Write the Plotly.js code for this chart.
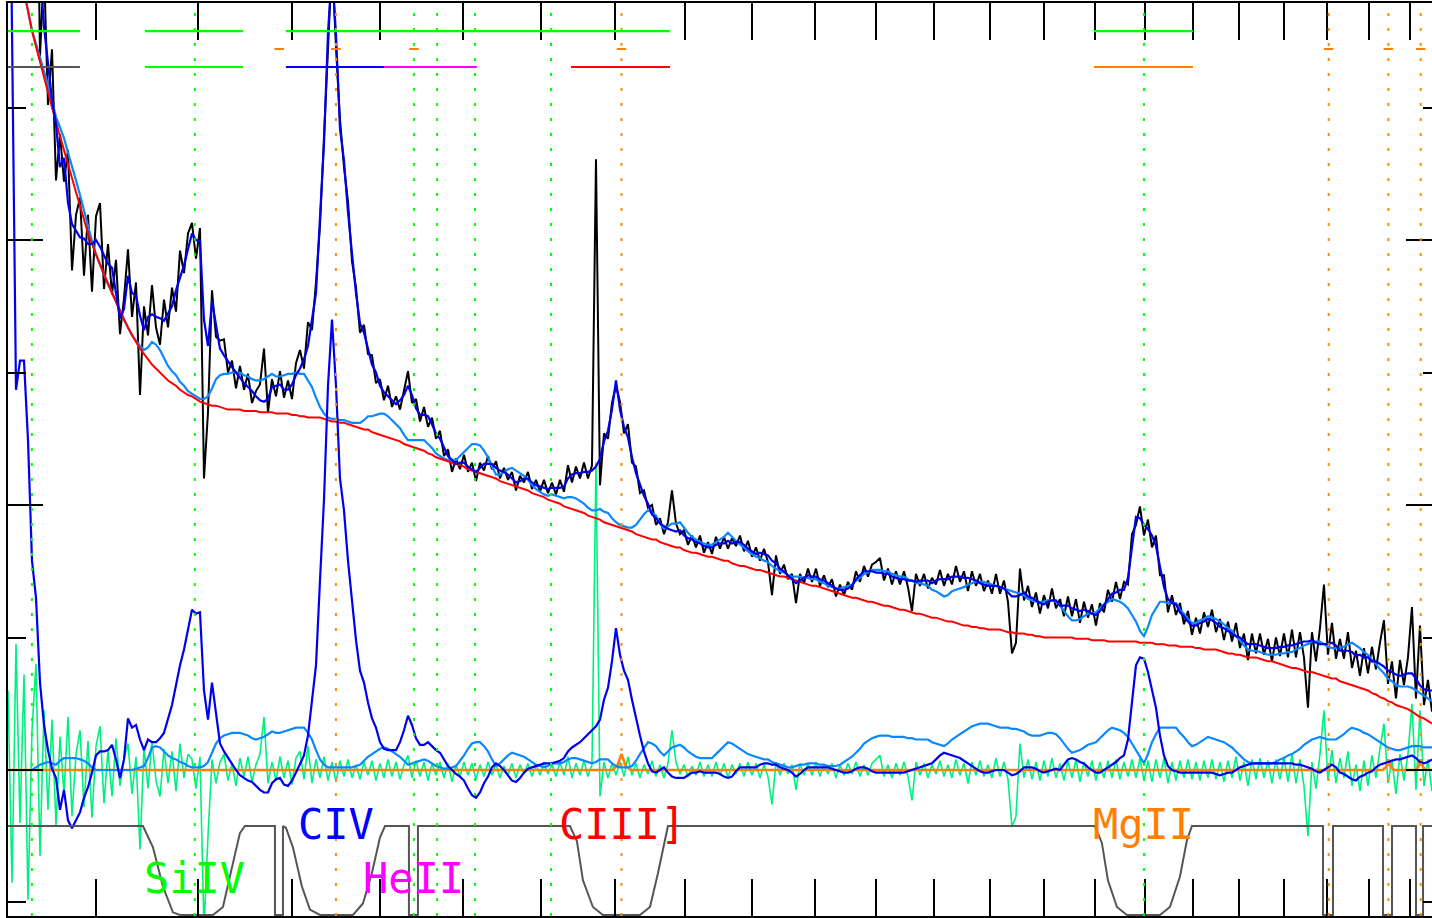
<!DOCTYPE html>
<html><head><meta charset="utf-8">
<script src="https://cdn.plot.ly/plotly-3.0.1.min.js"></script>
<style>html,body{margin:0;padding:0;overflow:hidden;background:#fff}#chart{width:1445px;height:918px}</style>
</head><body><div id="chart"></div>
<script>
// log-linear spectral sampling (rest-frame wavelength, Angstrom)
const loglam0 = 3.08583;
const dloglam = 0.0012712;
const npix = 357;

// power-law continuum
const continuum = [
649,633,617,602,588,573,558,546,534,522,511,500,489,478,468,457,447,436,426,415,405,397,389,381,374,
367,360,353,347,340,334,328,323,318,314,310,306,303,300,297,294,292,290,287,285,283,282,280,278,277,
276,275,275,274,273,272,272,272,272,271,271,271,271,270,270,270,270,269,269,269,269,268,268,267,267,
266,266,266,266,265,264,263,263,262,262,261,260,259,258,257,257,255,254,253,252,251,250,249,248,246,
245,244,243,242,241,239,238,236,235,234,233,232,231,230,229,227,226,225,224,223,222,221,220,218,217,
216,215,214,213,212,211,209,208,207,206,204,203,202,201,199,198,197,196,195,194,192,191,190,189,187,
186,185,184,183,182,181,180,178,177,176,175,174,174,172,171,170,169,168,168,166,165,164,164,163,162,
161,161,160,159,158,158,156,155,154,154,153,152,151,151,150,149,148,147,146,146,145,144,143,142,141,
140,139,139,138,137,136,135,134,133,132,131,130,130,129,128,127,127,126,125,124,124,123,122,121,121,
120,119,118,118,117,116,115,115,114,113,112,112,111,110,109,109,108,108,107,107,106,106,106,106,105,
104,104,103,103,103,102,102,101,101,100,100,100,100,100,100,100,100,99,99,99,99,98,98,98,98,
97,97,97,97,97,97,97,97,96,96,96,96,95,95,95,94,94,94,93,93,93,93,92,92,91,
91,91,91,90,89,88,88,87,87,86,85,85,85,84,83,82,82,81,80,79,78,77,77,76,75,
74,74,73,72,71,70,69,69,67,66,65,64,63,62,61,60,58,57,55,54,52,51,49,48,47,
46,44,42,40,39,37,35];

// FeII pseudo-continuum
const feii = [
0,0,0,0,0,0,0,2,4,5,6,5,4,7,9,9,9,9,8,7,5,2,0,0,0,
0,0,0,0,0,0,0,1,2,3,9,17,18,17,14,11,9,8,6,5,3,2,2,2,3,
6,13,20,24,26,27,28,28,28,27,26,24,23,24,25,27,29,28,28,29,30,31,32,32,32,
28,23,15,8,4,2,2,2,2,2,2,2,3,4,7,10,12,14,16,17,16,14,12,10,7,
4,5,6,7,8,7,5,3,2,1,1,2,3,7,11,16,20,21,21,18,14,8,3,5,8,
11,13,12,11,10,8,6,4,3,2,3,5,5,5,6,8,9,9,8,7,6,5,6,8,8,
8,5,3,2,2,2,3,7,12,17,21,20,18,14,11,14,17,18,19,17,14,12,10,9,9,
9,9,12,15,18,21,20,18,16,14,12,11,10,9,8,8,6,5,4,3,2,2,3,4,4,
5,5,5,4,4,3,3,3,4,6,8,10,13,16,20,22,24,25,26,26,26,25,25,25,25,
24,24,23,23,23,23,21,20,19,18,20,23,25,27,29,31,33,34,35,35,35,34,33,32,32,
32,31,31,30,29,27,26,26,26,27,28,28,27,24,20,16,13,14,15,17,19,20,21,24,27,
30,32,31,30,28,25,20,15,9,5,12,21,27,32,32,32,32,32,28,25,21,18,19,21,23,
25,24,23,22,21,19,17,14,11,8,6,5,5,5,5,5,5,6,8,9,11,12,14,16,19,
21,23,24,25,24,23,23,23,25,27,30,32,31,30,28,27,25,23,21,19,17,16,15,15,16,
17,18,18,18,17,17,17];

// broad emission-line model
const broadLines = [
830,543,287,309,309,249,158,130,66,34,15,1,-6,-30,-15,-38,-44,-38,-32,-21,-13,-2,11,14,14,
15,19,8,-6,8,39,32,34,23,15,23,21,21,24,28,39,49,64,79,91,107,121,118,119,60,
38,66,42,20,14,9,4,0,-4,-6,-8,-9,-12,-15,-17,-17,-10,-7,-6,-11,-12,-8,-2,4,11,
26,53,79,143,204,290,340,290,220,196,158,128,98,75,66,51,39,32,21,16,15,15,15,21,30,
41,34,24,19,19,21,18,15,13,8,3,0,-3,-5,-8,-14,-19,-21,-17,-10,-5,2,5,3,0,
-4,-8,-9,-6,-2,1,2,3,4,5,5,5,6,7,9,14,17,19,21,24,27,30,33,38,53,
62,82,107,87,75,68,53,39,26,14,5,-1,-2,0,2,-2,-5,-6,-6,-6,-4,-2,-2,-1,-2,
-2,-2,-2,-3,-5,-6,-5,-1,2,2,2,2,2,4,5,5,4,4,2,1,0,-2,-5,-3,0,
2,2,2,2,2,2,1,0,-1,-2,-2,-1,1,2,2,1,-1,-2,-2,-2,-2,-2,-2,-2,-2,
-1,0,1,2,3,4,5,8,11,13,12,11,10,9,7,5,3,1,-1,-2,-2,-1,0,0,0,
-2,-4,-3,-1,2,2,2,1,-1,-2,-1,0,1,0,4,8,9,8,6,5,2,0,-2,-2,0,
2,4,6,9,11,23,53,79,85,84,74,60,47,26,11,3,0,-1,-2,-2,-2,-2,-2,-2,-2,
-2,-2,-3,-4,-3,-2,-2,0,2,3,4,5,5,5,5,5,5,5,5,5,5,5,4,4,3,
2,1,-1,-2,0,2,4,2,-2,-3,-5,-7,-8,-5,-4,-2,-1,2,4,5,6,7,8,8,9,
10,11,9,6,5,6,8];

// data minus model
const residual = [
60,-85,95,-40,72,-98,30,80,-65,45,-30,38,-42,25,-18,40,-35,12,30,-28,22,-36,18,33,-25,
15,-20,24,-12,8,20,-18,10,-60,18,-14,22,-8,-20,16,-10,14,-16,20,-6,12,8,-14,10,-120,
-50,8,-10,6,12,-8,5,-12,9,-5,10,-9,4,12,40,-10,6,-8,10,-6,7,-11,9,14,-7,
18,-10,8,-6,10,-8,6,-9,7,-5,8,-6,4,-7,6,-4,7,-8,5,-6,8,-5,6,-7,4,
11,-6,7,-5,6,-8,5,-4,6,-6,5,-9,4,-5,6,-4,5,-7,4,-5,6,-4,5,-6,3,
-4,5,-6,4,-3,5,-5,4,-4,6,-3,4,-5,6,-4,10,-6,5,-4,7,-5,4,232,-20,6,
-6,5,-4,6,-5,10,-4,5,-6,4,-3,7,-5,4,-6,5,30,6,-3,4,-5,3,-4,6,-5,
4,-5,6,-4,5,-6,4,-3,5,-5,6,-4,5,-6,4,-5,-26,6,-4,5,-3,4,-15,5,-4,
5,-4,6,-5,4,-3,5,-6,4,-4,5,-3,6,-5,4,-4,5,8,11,-5,4,-6,5,-4,6,
-5,-23,6,-4,5,-6,4,-3,7,-5,4,-6,8,-4,5,-10,6,-4,7,-5,4,-6,9,-5,6,
-7,-43,-35,20,-6,8,-7,6,-8,7,-5,9,-6,5,-8,7,-6,8,-9,6,-5,7,-8,6,-6,
7,-6,8,-7,6,-5,8,-6,9,-8,7,-9,8,-6,9,-10,6,-8,7,-6,8,-7,6,-8,7,
-6,8,-7,6,-9,7,-6,10,-8,6,-12,8,-7,9,-6,7,-10,8,-7,10,-9,12,-10,8,-12,
-50,6,-14,12,45,-8,15,-10,9,-6,14,-12,4,-16,7,-12,11,-6,16,35,-10,8,-18,12,-8,
12,50,-15,45,-12,8,-16];

// narrow-line model
const narrowWave = [1218, 1896, 1903, 1909, 1915, 1922, 3332, 3340, 3346, 3352, 3360, 3412, 3420, 3426, 3432, 3440, 3478];
const narrowFlux = [0, 0, 3, 12, 3, 0, 0, 2, 8, 2, 0, 0, 2, 8, 2, 0, 0];

// fitting-window weight
const windowWave = [1218.5,1345.0,1354.9,1364.8,1374.8,1381.9,1415.7,1426.1,1436.5,1443.9,1449.2,1481.4,1481.4,1490.1,1490.1,
 1493.3,1501.0,1510.9,1519.8,1531.0,1568.4,1579.9,1590.3,1599.7,1605.6,1634.0,1634.0,1644.8,1644.8,
 1838.3,1847.7,1855.9,1869.5,1883.2,1934.9,1949.2,1960.6,1970.7,1975.0,
 2699.4,2713.2,2725.2,2743.2,2763.3,2830.9,2851.7,2872.6,2887.4,2898.0,
 3189.7,3189.7,3213.1,3213.1,3332.9,3332.9,3354.9,3354.9,3414.3,3414.3,3431.9,3431.9,3477.4];
const windowWeight = [1,1,0.76,0.32,0.03,0,0,0.09,0.58,0.92,1,1,0,0,1,
 0.98,0.76,0.32,0.06,0,0,0.13,0.47,0.87,1,1,0,0,1,
 1,0.83,0.39,0.09,0,0,0.09,0.47,0.87,1,
 1,0.81,0.39,0.09,0,0,0.09,0.43,0.84,1,
 1,0,0,1,1,0,0,1,1,0,0,1,1];

// line positions
const greenLines = [1240, 1397, 1640, 1668, 1715, 1813, 2798];
const orangeLines = [1549, 1909, 3203, 3346, 3426];
const narrowMarks = [1486, 1549, 1640, 1909, 3203, 3346, 3426];

// fit windows (two rows)
const row1Start = [1218.5, 1347.0, 1493.3, 2697.5];
const row1End   = [1284.4, 1447.1, 1977.9, 2900.1];
const row2Start = [1218.5, 1347.0, 1493.3, 1604.4, 1839.7, 2697.5];
const row2End   = [1284.4, 1447.1, 1604.4, 1717.4, 1977.9, 2900.1];
const row2Color = ['#555555', '#00ff00', '#0000ff', '#ff00ff', '#ff0000', '#ff8000'];

// line labels
const labelText = ['SiIV', 'CIV', 'HeII', 'CIII]', 'MgII'];
const labelWave = [1397, 1549, 1640, 1909, 2798];
const labelColor = ['#00ff00', '#0000ff', '#ff00ff', '#ff0000', '#ff8000'];
const labelRow = [0, 1, 0, 1, 1];

const wave = Array.from({length: npix}, (_, k) => Math.pow(10, loglam0 + k * dloglam));
const contFe = continuum.map((c, i) => c + feii[i]);
const model = contFe.map((c, i) => c + broadLines[i]);
const flux = model.map((m, i) => m + residual[i]);

const traces = [
  {x: wave, y: flux, mode: 'lines', line: {color: '#000000', width: 2}},
  {x: wave, y: residual, mode: 'lines', line: {color: '#00f080', width: 1.6}},
  {x: narrowWave, y: narrowFlux, mode: 'lines', line: {color: '#ff8000', width: 2.6}},
  {x: wave, y: feii, mode: 'lines', line: {color: '#0a88ff', width: 2.2}},
  {x: wave, y: contFe, mode: 'lines', line: {color: '#0a88ff', width: 2.2}},
  {x: wave, y: continuum, mode: 'lines', line: {color: '#ff0000', width: 2}},
  {x: wave, y: broadLines, mode: 'lines', line: {color: '#0000ee', width: 2.2}},
  {x: wave, y: model, mode: 'lines', line: {color: '#0000ee', width: 2.2}},
  {x: windowWave, y: windowWeight, yaxis: 'y2', mode: 'lines', line: {color: '#555555', width: 2}}
];

const shapes = [];
greenLines.forEach(w => shapes.push({type: 'line', xref: 'x', yref: 'paper', x0: w, x1: w, y0: 0, y1: 1,
  line: {color: '#00ff00', width: 2, dash: '3px,12px'}, layer: 'above'}));
orangeLines.forEach(w => shapes.push({type: 'line', xref: 'x', yref: 'paper', x0: w, x1: w, y0: 0, y1: 1,
  line: {color: '#ff8c00', width: 2, dash: '3px,12px'}, layer: 'above'}));
narrowMarks.forEach(w => shapes.push({type: 'line', xref: 'x', yref: 'paper', x0: w / 1.0035, x1: w * 1.0035,
  y0: 0.9496, y1: 0.9496, line: {color: '#ff8000', width: 2}, layer: 'above'}));
row1Start.forEach((s, i) => shapes.push({type: 'line', xref: 'x', yref: 'paper', x0: s, x1: row1End[i],
  y0: 0.9693, y1: 0.9693, line: {color: '#00ff00', width: 2.2}, layer: 'above'}));
row2Start.forEach((s, i) => shapes.push({type: 'line', xref: 'x', yref: 'paper', x0: s, x1: row2End[i],
  y0: 0.9299, y1: 0.9299, line: {color: row2Color[i], width: 2.2}, layer: 'above'}));

const annotations = labelText.map((t, i) => ({
  text: t, x: Math.log10(labelWave[i]), xref: 'x', yref: 'paper',
  y: labelRow[i] ? 0.0997 : 0.0416, xanchor: 'center', yanchor: 'middle', showarrow: false,
  font: {family: 'DejaVu Sans Mono', size: 42, color: labelColor[i]}
}));

const tickCommon = {ticks: 'inside', tickcolor: '#000', tickwidth: 2, showticklabels: false,
  showline: true, linecolor: '#000', linewidth: 2, mirror: 'allticks', showgrid: false, zeroline: false};

const layout = {
  width: 1445, height: 918,
  margin: {l: 8, r: 4, t: 3, b: 2},
  paper_bgcolor: '#ffffff', plot_bgcolor: '#ffffff',
  showlegend: false,
  xaxis: Object.assign({type: 'log', range: [3.08583, 3.54125], tickmode: 'array',
    tickvals: [1500, 2000, 2500, 3000], ticklen: 37,
    minor: {tickmode: 'array', tickvals: [1300,1400,1600,1700,1800,1900,2100,2200,2300,2400,2600,2700,2800,2900,3100,3200,3300,3400],
      ticks: 'inside', ticklen: 18, tickwidth: 2, tickcolor: '#000', showgrid: false}}, tickCommon),
  yaxis: Object.assign({range: [-110.2, 578.9], tickmode: 'array', tickvals: [0, 200, 400], ticklen: 35,
    minor: {tickmode: 'array', tickvals: [-100, 100, 300, 500], ticks: 'inside', ticklen: 18, tickwidth: 2,
      tickcolor: '#000', showgrid: false}}, tickCommon),
  yaxis2: {overlaying: 'y', range: [-0.0112, 10.247], visible: false},
  shapes: shapes,
  annotations: annotations
};

Plotly.newPlot('chart', traces, layout, {staticPlot: true, displayModeBar: false});
</script>
</body></html>
